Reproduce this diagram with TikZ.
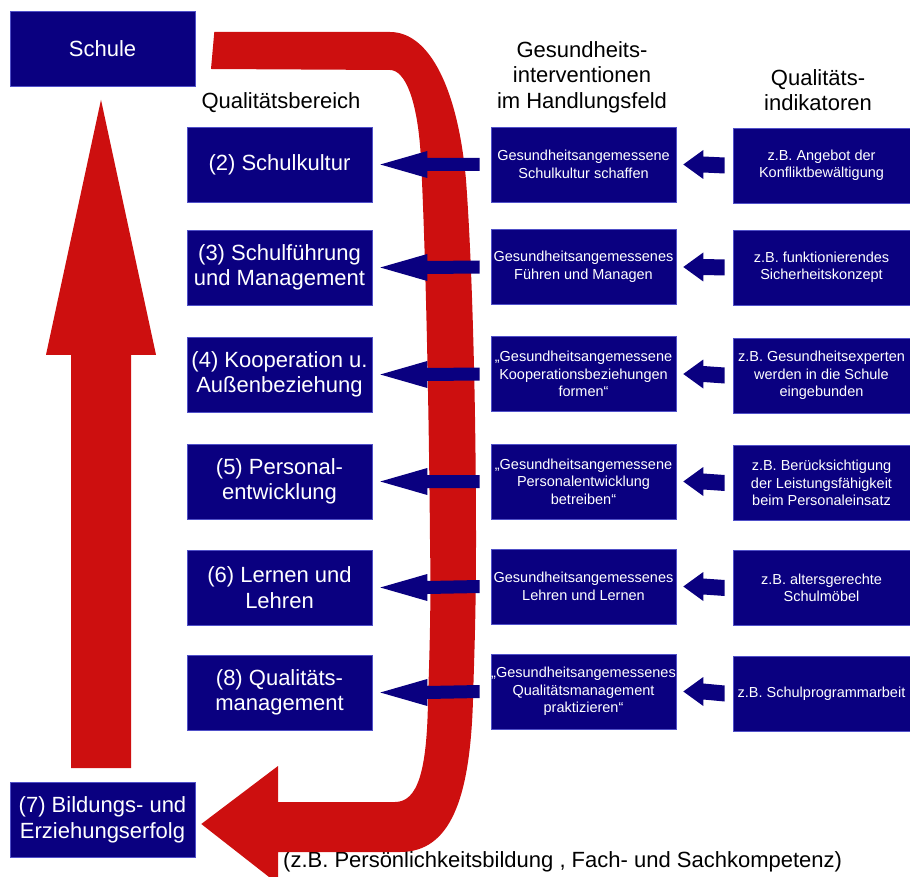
\documentclass[tikz,border=0pt]{standalone}
\usepackage{fontspec}
\setmainfont{Liberation Sans}
\usetikzlibrary{calc}
\definecolor{navyc}{RGB}{10,0,128}
\definecolor{redc}{RGB}{205,15,15}
\definecolor{edgec}{RGB}{80,80,200}
\newcommand{\fbig}{\fontsize{22}{25.5}\selectfont}
\newcommand{\fsmall}{\fontsize{14.5}{17.5}\selectfont}
% #1 tail coordinate, #2 tip coordinate, #3 head length, #4 head half width, #5 shaft half width
\newcommand{\blkarrow}[5]{\fill[navyc] (#2) -- ($(#2)+(#3,-#4)$) -- ($(#2)+(#3,-#5)$) -- ($(#1)+(0,-#5)$) -- ($(#1)+(0,#5)$) -- ($(#2)+(#3,#5)$) -- ($(#2)+(#3,#4)$) -- cycle;}
\begin{document}
\begin{tikzpicture}[x=1pt,y=-1pt,
  box/.style={fill=navyc, draw=edgec, line width=0.6pt, text=white, align=center, inner sep=0pt, minimum height=75pt},
  qbox/.style={box, minimum width=185pt, font=\fbig},
  ibox/.style={box, minimum width=185pt, font=\fsmall},
  kbox/.style={box, minimum width=177pt, font=\fsmall},
  head/.style={align=center, font=\fbig, inner sep=0pt}]
\useasboundingbox (0,0) rectangle (910,877);
\clip (0,0) rectangle (910,877);

% main boxes
\node[qbox] (schule) at (102.5,49) {Schule};
\node[qbox] (erfolg) at (102.5,820) {(7) Bildungs- und\\Erziehungserfolg};

% headers
\node[head] (hq) at (281,103) {Qualitätsbereich};
\node[head] (hg) at (582,77) {Gesundheits-\\interventionen\\im Handlungsfeld};
\node[head] (hi) at (818,90) {Qualitäts-\\indikatoren};

% left column
\node[qbox] (l2) at (279.5,164.5) {(2) Schulkultur};
\node[qbox] (l3) at (279.5,267.5) {(3) Schulführung\\und Management};
\node[qbox] (l4) at (279.5,374.5) {(4) Kooperation u.\\Außenbeziehung};
\node[qbox] (l5) at (279.5,481.5) {(5) Personal-\\entwicklung};
\node[qbox] (l6) at (279.5,587.5) {(6) Lernen und\\Lehren};
\node[qbox] (l8) at (279.5,692.5) {(8) Qualitäts-\\management};

% middle column
\node[ibox] (m2) at (583.5,164.5) {Gesundheitsangemessene\\Schulkultur schaffen};
\node[ibox] (m3) at (583.5,267) {Gesundheitsangemessenes\\Führen und Managen};
\node[ibox] (m4) at (583.5,374) {„Gesundheitsangemessene\\Kooperationsbeziehungen\\formen“};
\node[ibox] (m5) at (583.5,481.5) {„Gesundheitsangemessene\\Personalentwicklung\\betreiben“};
\node[ibox] (m6) at (583.5,586.5) {Gesundheitsangemessenes\\Lehren und Lernen};
\node[ibox] (m8) at (583.5,691.5) {„Gesundheitsangemessenes\\Qualitätsmanagement\\praktizieren“};

% right column
\node[kbox] (r2) at (821.5,165.5) {z.B. Angebot der\\Konfliktbewältigung};
\node[kbox] (r3) at (821.5,267.5) {z.B. funktionierendes\\Sicherheitskonzept};
\node[kbox] (r4) at (821.5,375.5) {z.B. Gesundheitsexperten\\werden in die Schule\\eingebunden};
\node[kbox] (r5) at (821.5,483) {z.B. Berücksichtigung\\der Leistungsfähigkeit\\beim Personaleinsatz};
\node[kbox] (r6) at (821.5,588) {z.B. altersgerechte\\Schulmöbel};
\node[kbox] (r8) at (821.5,693.5) {z.B. Schulprogrammarbeit};

% bottom note
\node[anchor=west, font=\fbig, inner sep=0pt] (note) at (283,862) {(z.B. Persönlichkeitsbildung , Fach- und Sachkompetenz)};

% red upward arrow from (7) to Schule
\path ($(schule.south)+(-1.5,13)$) coordinate (uptip)
      ($(erfolg.north)+(-1.5,-14)$) coordinate (upend);
\fill[redc] (uptip) -- ($(uptip)+(55,255)$) -- ($(uptip)+(30,255)$) -- ($(upend)+(30,0)$)
  -- ($(upend)+(-30,0)$) -- ($(uptip)+(-30,255)$) -- ($(uptip)+(-55,255)$) -- cycle;

% red curved arrow from Schule round to (7)
\path ($(schule.east)+(19,-17)$) coordinate (rstart)
      ($(erfolg.east)+(6,4)$) coordinate (rtip);
\fill[redc] (rstart) -- (390,32) .. controls (430,32) and (458,90) .. (466,180)
  .. controls (472,260) and (476,400) .. (476,540)
  .. controls (476,620) and (474,660) .. (473,700)
  .. controls (470,800) and (450,852) .. (400,852)
  -- (278,852) -- (278,884) -- (rtip) -- (278,766) -- (278,802) -- (395,802)
  .. controls (418,802) and (427,770) .. (428,700)
  .. controls (430,640) and (431,600) .. (430,540)
  .. controls (429,420) and (426,260) .. (421,160)
  .. controls (418,100) and (405,70) .. (390,70) -- (211,69) -- cycle;

% blue arrows
\foreach \r in {2,3,4,5,6,8} {
  \coordinate (bt\r) at ($(l\r.east)+(8,0)$);
  \coordinate (bs\r) at ($(m\r.west)+(-11,0)$);
  \blkarrow{bs\r}{bt\r}{47}{13.5}{6.5}
  \coordinate (st\r) at ($(m\r.east)+(7,0)$);
  \coordinate (ss\r) at ($(r\r.west)+(-8,0)$);
  \blkarrow{ss\r}{st\r}{20}{14.5}{8}
}
\end{tikzpicture}
\end{document}
